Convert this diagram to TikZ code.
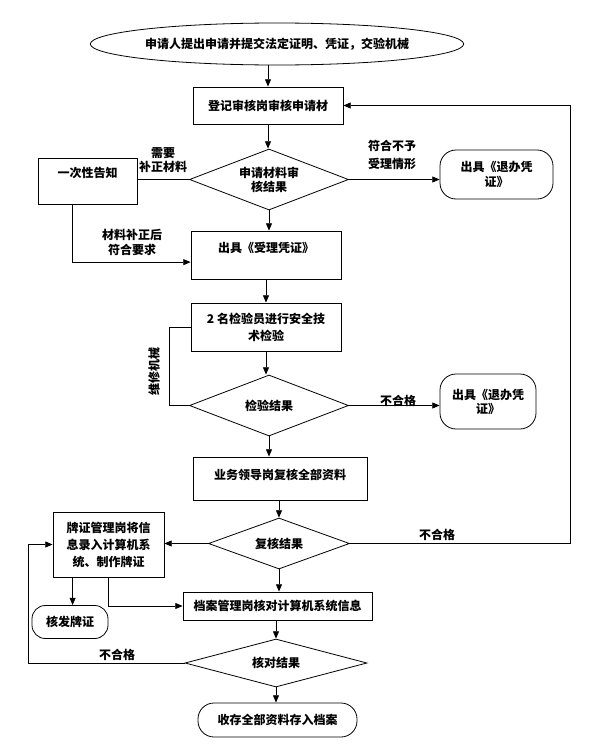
\documentclass[tikz,border=0pt]{standalone}
\usepackage{fontspec}
\setmainfont{Noto Sans CJK SC}
\usetikzlibrary{shapes.geometric,arrows.meta,calc}
\begin{document}
\begin{tikzpicture}[x=0.75pt,y=-0.75pt,
  every node/.style={font=\bfseries\fontsize{9pt}{12pt}\selectfont, inner sep=0pt, align=center},
  box/.style={draw, rectangle, line width=0.6pt},
  rbox/.style={draw, rectangle, rounded corners=12pt, line width=0.6pt},
  dia/.style={draw, diamond, shape aspect=2.6, line width=0.6pt},
  term/.style={draw, ellipse, line width=0.6pt},
  sz/.style 2 args={minimum width=#1*0.75pt, minimum height=#2*0.75pt},
  line/.style={line width=0.6pt},
  arr/.style={line width=0.6pt, -{Triangle[length=5.5pt,width=4.5pt]}},
  lbl/.style={font=\bfseries\fontsize{9pt}{10.5pt}\selectfont},
]
\useasboundingbox[fill=white] (0,0) rectangle (591,746);

% nodes
\node[term, sz={325}{42}] (start) at (277,44) {申请人提出申请并提交法定证明、凭证，交验机械};
\node[box, sz={150}{37}] (b1) at (268,105.5) {登记审核岗审核申请材};
\node[dia, sz={159}{61}, font=\bfseries\fontsize{9pt}{10.5pt}\selectfont] (d1) at (269,179.5) {申请材料审\\核结果};
\node[box, sz={99}{46}, text depth=13pt] (notice) at (87.5,181) {一次性告知};
\node[rbox, sz={113}{49}, font=\bfseries\fontsize{9pt}{11.25pt}\selectfont] (rej1) at (496.5,174.5) {出具《退办凭\\证》};
\node[box, sz={150}{48}, text depth=11.6pt] (ok) at (266,255) {出具《受理凭证》};
\node[box, sz={150}{48}, font=\bfseries\fontsize{9pt}{12.75pt}\selectfont] (insp) at (266,327) {2 名检验员进行安全技\\术检验};
\node[dia, sz={159}{61}] (d2) at (269,405.5) {检验结果};
\node[rbox, sz={96}{55}, font=\bfseries\fontsize{9pt}{10.5pt}\selectfont] (rej2) at (488,401.5) {出具《退办凭\\证》};
\node[box, sz={174}{43}, text depth=6.3pt] (review) at (280,478.5) {业务领导岗复核全部资料};
\node[dia, sz={141}{51}] (d3) at (279,543.5) {复核结果};
\node[box, sz={111}{65}, font=\bfseries\fontsize{9pt}{12.75pt}\selectfont] (card) at (108.5,544.5) {牌证管理岗将信\\息录入计算机系\\统、制作牌证};
\node[rbox, sz={76}{33}, rounded corners=10pt] (issue) at (70,622) {核发牌证};
\node[box, sz={189}{28}] (archive) at (277.5,606) {档案管理岗核对计算机系统信息};
\node[dia, sz={182}{48}] (d4) at (276,663) {核对结果};
\node[rbox, sz={159}{34}, rounded corners=12pt] (end) at (277.5,720) {收存全部资料存入档案};

% helper coordinates
\coordinate (lp) at (169,0);
\coordinate (rr) at (570,0);
\coordinate (ll) at (28,0);
\coordinate (n1) at ($(notice.south west)!0.35!(notice.south east)$);
\coordinate (okin) at ($(ok.south west)!0.354!(ok.north west)$);
\coordinate (c1) at ($(card.south west)+(20,0)$);

% connectors
\draw[arr] (start.south -| b1.north) -- (b1.north);
\draw[arr] (b1.south) -- (b1.south |- d1.north);
\draw[line] (d1.west) -- (d1.west -| notice.east);
\node[lbl] (l1) at (163,160) {需要\\补正材料};
\draw[arr] (n1) |- (okin);
\node[lbl, font=\bfseries\fontsize{9pt}{11.25pt}\selectfont] (l2) at (132,242.5) {材料补正后\\符合要求};
\draw[arr] (d1.east) -- (d1.east -| rej1.west);
\node[lbl, font=\bfseries\fontsize{9pt}{13.5pt}\selectfont] (l3) at (392,155) {符合不予\\受理情形};
\draw[arr] (d1.south) -- (d1.south |- ok.north);
\draw[arr] (ok.south) -- (insp.north);
\draw[arr] (insp.south) -- (insp.south |- d2.north);
\draw[line] (d2.west) -- (d2.west -| lp) |- (insp.west);
\node[lbl, rotate=90] (l4) at (154,371) {维修机械};
\draw[arr] (d2.east) -- (d2.east -| rej2.west);
\node[lbl] (l5) at (398,401) {不合格};
\draw[arr] (d2.south) -- (d2.south |- review.north);
\draw[arr] (review.south -| d3.north) -- (d3.north);
\draw[arr] (d3.west) -- (d3.west -| card.east);
\draw[arr] (d3.south) -- (d3.south |- archive.north);
\draw[arr] (d3.east) -- (d3.east -| rr) |- (b1.east);
\node[lbl] (l6) at (437,535) {不合格};
\draw[arr] (c1) -- (c1 |- issue.north);
\draw[arr] (card.south) |- (archive.west);
\draw[arr] (archive.south -| d4.north) -- (d4.north);
\draw[arr] (d4.west) -- (d4.west -| ll) |- (card.west);
\node[lbl] (l7) at (117,655) {不合格};
\draw[arr] (d4.south) -- (d4.south |- end.north);
\end{tikzpicture}
\end{document}
